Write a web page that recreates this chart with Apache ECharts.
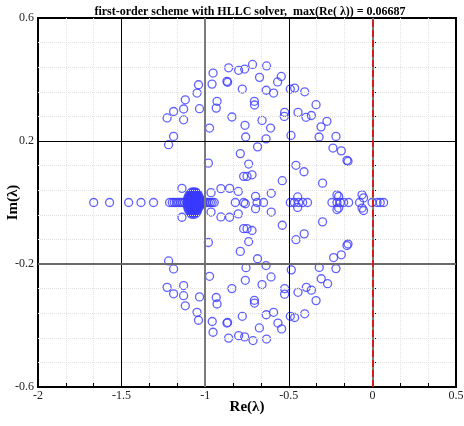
<!DOCTYPE html>
<html>
<head>
<meta charset="utf-8">
<script src="https://cdn.jsdelivr.net/npm/echarts@6/dist/echarts.min.js"></script>
<style>
  html, body { margin: 0; padding: 0; background: #fff; }
  #chart { width: 464px; height: 426px; }
</style>
</head>
<body>
<div id="chart"></div>
<script>
// eigenvalues, [Re, Im]
var upperHalf = [
  [-1.228, 0.275], [-1.189, 0.296], [-1.129, 0.304], [-1.129, 0.269], [-1.119, 0.334],
  [-1.049, 0.356], [-1.040, 0.383], [-1.034, 0.305], [-1.189, 0.215], [-0.974, 0.242],
  [-0.953, 0.421], [-0.959, 0.385], [-0.860, 0.438], [-0.870, 0.394], [-0.866, 0.391],
  [-0.929, 0.329], [-0.934, 0.307], [-0.840, 0.278], [-0.800, 0.430], [-0.764, 0.434],
  [-0.717, 0.449], [-0.633, 0.444], [-0.675, 0.407], [-0.778, 0.369], [-0.706, 0.329],
  [-0.705, 0.317], [-0.635, 0.365], [-0.591, 0.356], [-0.567, 0.392], [-0.545, 0.410],
  [-0.491, 0.369], [-0.465, 0.372], [-0.405, 0.360], [-0.525, 0.293], [-0.527, 0.280],
  [-0.445, 0.293], [-0.397, 0.277], [-0.365, 0.283], [-0.660, 0.267], [-0.762, 0.251],
  [-0.609, 0.242], [-0.758, 0.213], [-0.636, 0.207], [-0.487, 0.218], [-0.337, 0.318],
  [-0.272, 0.264], [-0.307, 0.246], [-0.319, 0.213], [-0.218, 0.215], [-1.219, 0.188],
  [-0.687, 0.181], [-0.790, 0.159], [-0.740, 0.125], [-0.981, 0.128], [-0.770, 0.085],
  [-0.750, 0.085], [-0.720, 0.090], [-0.539, 0.071], [-0.457, 0.121], [-0.409, 0.100],
  [-1.139, 0.046], [-0.965, 0.032], [-0.906, 0.045], [-0.854, 0.046], [-0.802, 0.036],
  [-0.699, 0.020], [-0.605, 0.030], [-0.447, 0.018], [-0.236, 0.177], [-0.186, 0.168],
  [-0.152, 0.137], [-0.146, 0.134], [-0.298, 0.063], [-0.212, 0.025], [-0.202, 0.020],
  [-0.062, 0.025], [-0.053, 0.015]
];
var lowerHalf = [
  [-1.139, -0.048], [-0.965, -0.031], [-0.906, -0.047], [-0.854, -0.048], [-0.802, -0.037],
  [-0.699, -0.020], [-0.605, -0.031], [-0.447, -0.016], [-0.770, -0.085], [-0.750, -0.085],
  [-0.720, -0.091], [-0.539, -0.074], [-0.981, -0.130], [-0.740, -0.127], [-0.790, -0.159],
  [-0.457, -0.121], [-0.408, -0.102], [-1.219, -0.190], [-1.189, -0.216], [-0.756, -0.212],
  [-0.687, -0.183], [-0.636, -0.205], [-0.485, -0.219], [-0.974, -0.240], [-0.760, -0.253],
  [-0.606, -0.242], [-0.660, -0.267], [-0.840, -0.280], [-1.228, -0.276], [-1.189, -0.297],
  [-1.129, -0.270], [-1.129, -0.303], [-1.119, -0.336], [-1.034, -0.307], [-1.049, -0.357],
  [-1.040, -0.383], [-0.934, -0.309], [-0.929, -0.330], [-0.958, -0.387], [-0.953, -0.422],
  [-0.870, -0.392], [-0.866, -0.390], [-0.860, -0.441], [-0.800, -0.433], [-0.764, -0.437],
  [-0.714, -0.449], [-0.633, -0.444], [-0.676, -0.408], [-0.778, -0.370], [-0.706, -0.318],
  [-0.705, -0.327], [-0.635, -0.365], [-0.591, -0.357], [-0.565, -0.392], [-0.543, -0.411],
  [-0.525, -0.280], [-0.525, -0.298], [-0.445, -0.292], [-0.395, -0.276], [-0.365, -0.285],
  [-0.491, -0.370], [-0.465, -0.374], [-0.405, -0.362], [-0.337, -0.319], [-0.306, -0.248],
  [-0.268, -0.264], [-0.318, -0.211], [-0.218, -0.215], [-0.232, -0.179], [-0.186, -0.170],
  [-0.152, -0.140], [-0.146, -0.135], [-0.298, -0.063], [-0.212, -0.023], [-0.202, -0.018],
  [-0.062, -0.018], [-0.053, -0.026]
];
var realAxis = [
  [-1.667, 0], [-1.572, 0], [-1.458, 0], [-1.384, 0], [-1.309, 0], [-1.213, 0],
  [-1.197, 0], [-1.185, 0], [-1.173, 0], [-1.161, 0], [-1.149, 0], [-1.137, 0], [-1.125, 0],
  [-1.029, 0], [-1.017, 0], [-1.005, 0], [-0.993, 0], [-0.981, 0], [-0.969, 0], [-0.958, 0],
  [-0.946, 0], [-0.820, 0], [-0.770, 0], [-0.760, -0.004],
  [-0.690, 0], [-0.651, 0], [-0.491, 0], [-0.467, 0], [-0.441, 0], [-0.417, 0],
  [-0.388, 0], [-0.242, 0], [-0.212, 0], [-0.192, 0], [-0.172, 0], [-0.142, 0],
  [-0.077, 0], [-0.002, 0], [0.028, 0], [0.047, 0], [0.067, 0]
];
// the dense clump near Re = -1.07 (drawn as a nearly solid blot)
var cluster = [
  [-1.080, 0.034], [-1.072, 0.034], [-1.064, 0.034], [-1.056, 0.034],
  [-1.092, 0.028], [-1.082, 0.028], [-1.072, 0.028], [-1.062, 0.028], [-1.052, 0.028], [-1.044, 0.028],
  [-1.098, 0.022], [-1.088, 0.022], [-1.078, 0.022], [-1.068, 0.022], [-1.058, 0.022], [-1.048, 0.022],
  [-1.040, 0.022],
  [-1.103, 0.016], [-1.093, 0.016], [-1.083, 0.016], [-1.073, 0.016], [-1.063, 0.016], [-1.053, 0.016],
  [-1.043, 0.016], [-1.035, 0.016],
  [-1.106, 0.010], [-1.096, 0.010], [-1.086, 0.010], [-1.076, 0.010], [-1.066, 0.010], [-1.056, 0.010],
  [-1.046, 0.010], [-1.036, 0.010], [-1.028, 0.010],
  [-1.108, 0.004], [-1.098, 0.004], [-1.088, 0.004], [-1.078, 0.004], [-1.068, 0.004], [-1.058, 0.004],
  [-1.048, 0.004], [-1.038, 0.004], [-1.028, 0.004], [-1.020, 0.004],
  [-1.108, -0.002], [-1.097, -0.002], [-1.087, -0.002], [-1.077, -0.002], [-1.067, -0.002],
  [-1.057, -0.002], [-1.047, -0.002], [-1.037, -0.002], [-1.027, -0.002], [-1.018, -0.002],
  [-1.107, -0.008], [-1.097, -0.008], [-1.087, -0.008], [-1.077, -0.008], [-1.067, -0.008],
  [-1.057, -0.008], [-1.047, -0.008], [-1.037, -0.008], [-1.027, -0.008],
  [-1.105, -0.014], [-1.095, -0.014], [-1.085, -0.014], [-1.075, -0.014], [-1.065, -0.014],
  [-1.055, -0.014], [-1.045, -0.014], [-1.035, -0.014],
  [-1.102, -0.020], [-1.092, -0.020], [-1.082, -0.020], [-1.072, -0.020], [-1.062, -0.020],
  [-1.052, -0.020], [-1.042, -0.020],
  [-1.097, -0.026], [-1.087, -0.026], [-1.077, -0.026], [-1.067, -0.026], [-1.057, -0.026],
  [-1.047, -0.026],
  [-1.090, -0.032], [-1.080, -0.032], [-1.070, -0.032], [-1.060, -0.032], [-1.050, -0.032],
  [-1.082, -0.038], [-1.072, -0.038], [-1.062, -0.038]
];

var xLabels = [-2, -1.5, -1, -0.5, 0, 0.5];
var yLabels = [-0.6, -0.2, 0.2, 0.6];
var yMinor = [0.52, 0.44, 0.36, 0.28, 0.12, 0.04, -0.04, -0.12, -0.28, -0.36, -0.44, -0.52];

var serif = 'Liberation Serif';
var blue = '#3a3aff';
var faint = '#e2e2e2';

function vline (x, color, width, type) {
  return { xAxis: x, lineStyle: { color: color, width: width, type: type } };
}
function hline (y, color, width, type) {
  return { yAxis: y, lineStyle: { color: color, width: width, type: type } };
}

var gridLines = [
  vline(-1.5, '#000', 1, 'solid'),
  vline(-1, '#7a7a7a', 2, 'solid'),
  vline(-0.5, '#000', 1, 'solid'),
  vline(0, '#7a7a7a', 2, 'solid'),
  hline(0.2, '#000', 1, 'solid'),
  hline(-0.2, '#6a6a6a', 2, 'solid')
];
yMinor.forEach(function (v) { gridLines.unshift(hline(v, faint, 1, 'dotted')) });

var allPoints = upperHalf.concat(lowerHalf, realAxis, cluster);

var chart = echarts.init(document.getElementById('chart'));
chart.setOption({
  animation: false,
  backgroundColor: '#fff',
  title: {
    text: 'first-order scheme with HLLC solver,  max(Re( \u03bb)) = 0.06687',
    left: 245,
    textAlign: 'center',
    top: 1,
    textStyle: { fontFamily: serif, fontSize: 12, fontWeight: 'bold', color: '#000' }
  },
  grid: {
    left: 38, right: 8, top: 18, bottom: 39,
    outerBoundsMode: 'none', containLabel: false,
    show: true, borderColor: '#000', borderWidth: 2, backgroundColor: '#fff'
  },
  xAxis: {
    type: 'value', min: -2, max: 0.5, interval: 0.5,
    name: 'Re(\u03bb)', nameLocation: 'middle', nameGap: 13, nameMoveOverlap: false,
    nameTextStyle: { fontFamily: serif, fontSize: 15, fontWeight: 'bold', color: '#000' },
    axisLine: { onZero: false, lineStyle: { color: '#000', width: 2 } },
    axisTick: { inside: true, length: 7, lineStyle: { color: '#000' } },
    minorTick: { show: true, splitNumber: 3, length: 4, lineStyle: { color: '#000' } },
    minorSplitLine: { show: true, lineStyle: { color: faint, type: 'dotted' } },
    splitLine: { show: false },
    axisLabel: {
      fontFamily: serif, fontSize: 12, color: '#222', margin: 3,
      customValues: xLabels,
      formatter: function (v) { return String(v) }
    }
  },
  yAxis: [{
    type: 'value', min: -0.6, max: 0.6,
    name: 'Im(\u03bb)', nameLocation: 'middle', nameGap: 17, nameMoveOverlap: false,
    nameTextStyle: { fontFamily: serif, fontSize: 15, fontWeight: 'bold', color: '#000' },
    axisLine: { onZero: false, lineStyle: { color: '#000', width: 2 } },
    axisTick: { inside: true, length: 7, customValues: yLabels, lineStyle: { color: '#000' } },
    splitLine: { show: false },
    axisLabel: {
      fontFamily: serif, fontSize: 12, color: '#222', margin: 4,
      customValues: yLabels,
      formatter: function (v) { return String(v) }
    }
  }, {
    // second axis only carries the minor ticks
    type: 'value', min: -0.6, max: 0.6, position: 'left',
    axisLine: { show: false },
    axisTick: { inside: true, length: 4, customValues: yMinor, lineStyle: { color: '#000' } },
    axisLabel: { show: false },
    splitLine: { show: false }
  }],
  series: [
    {
      type: 'scatter', data: [], z: 1, silent: true,
      markLine: {
        silent: true, symbol: ['none', 'none'], label: { show: false },
        animation: false, data: gridLines
      }
    },
    {
      type: 'scatter', data: [], z: 2, silent: true,
      markLine: {
        silent: true, symbol: ['none', 'none'], label: { show: false }, animation: false,
        data: [vline(0, '#d41a1a', 2, [7, 3])]
      }
    },
    {
      type: 'scatter', z: 3,
      data: allPoints,
      symbol: 'circle', symbolSize: 8,
      itemStyle: { color: 'rgba(0,0,0,0)', borderColor: blue, borderWidth: 1.3 }
    }
  ]
});
</script>
</body>
</html>
